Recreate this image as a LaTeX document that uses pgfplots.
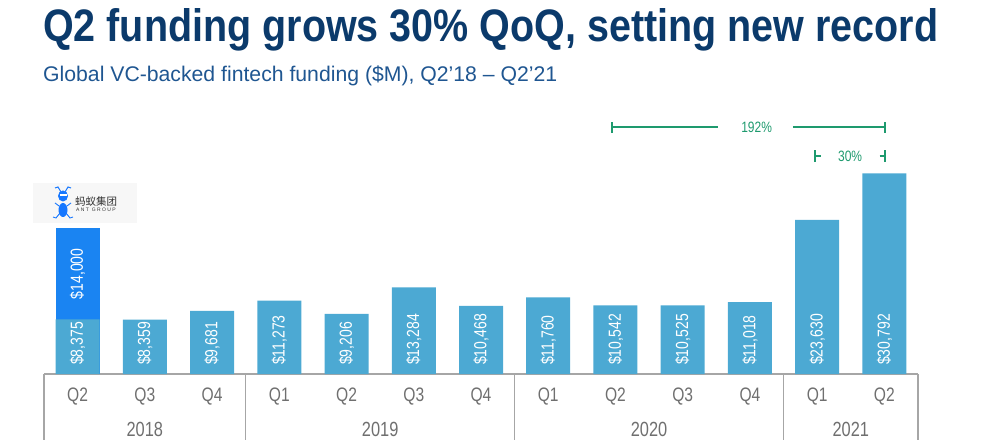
\documentclass[border=0pt]{standalone}
\usepackage{pgfplots}
\pgfplotsset{compat=1.18}
\usepackage{fontspec}
\setmainfont{Liberation Sans}
\newfontfamily\condfont{Liberation Sans}[FakeStretch=0.8]
\newfontfamily\cjk{Noto Sans CJK SC}
\definecolor{navy}{HTML}{0B3A6B}
\definecolor{subblue}{HTML}{1F5691}
\definecolor{lightbar}{HTML}{4CA9D3}
\definecolor{darkbar}{HTML}{1A84F2}
\definecolor{anngreen}{HTML}{1E9A6E}
\definecolor{linegray}{HTML}{A6A6A6}
\definecolor{tickgray}{HTML}{6F6F6F}
\definecolor{antblue}{HTML}{1677FF}
\begin{document}
\begin{tikzpicture}
\path[use as bounding box] (0pt,0pt) rectangle (987pt,439pt);
% title and subtitle
\node[anchor=base west, inner sep=0pt, text=navy] at (43pt,397pt)
  {\resizebox{895pt}{33pt}{\bfseries Q2 funding grows 30\% QoQ, setting new record}};
\node[anchor=base west, inner sep=0pt, text=subblue] at (43pt,357.3pt)
  {\resizebox{514pt}{!}{\fontsize{20}{24}\selectfont Global VC-backed fintech funding (\$M), Q2’18 – Q2’21}};
% logo
\fill[gray!6] (33pt,216pt) rectangle (137pt,256pt);
\begin{scope}[antblue]
  \draw[line width=1pt] (61pt,247pt) -- (58pt,252pt) -- (55pt,251pt);
  \draw[line width=1pt] (65pt,247pt) -- (68pt,252pt) -- (71pt,251pt);
  \fill (63pt,243pt) ellipse (5pt and 5.5pt);
  \fill[white] (59.5pt,242.5pt) rectangle (66.5pt,244.5pt);
  \fill (63pt,229pt) ellipse (4.5pt and 7pt);
  \draw[line width=0.9pt] (60pt,226pt) -- (56pt,221pt) -- (53pt,222pt);
  \draw[line width=0.9pt] (66pt,226pt) -- (70pt,221pt) -- (73pt,222pt);
  \draw[line width=0.9pt] (59pt,233pt) -- (55pt,236pt);
  \draw[line width=0.9pt] (67pt,233pt) -- (71pt,236pt);
\end{scope}
\node[anchor=base west, inner sep=0pt, text=black!80] at (75pt,233pt) {\cjk\fontsize{10.5}{12}\selectfont 蚂蚁集团};
\node[anchor=base west, inner sep=0pt, text=black!80] at (76pt,227.5pt) {\fontsize{5}{6}\selectfont A N T\ \ G R O U P};
\begin{axis}[
  at={(44pt,65pt)}, anchor=south west,
  scale only axis, width=874pt, height=264pt,
  xmin=-0.5, xmax=12.5, ymin=0, ymax=40500,
  axis x line*=bottom, axis y line=none,
  x axis line style={draw=linegray, line width=1.3pt},
  xtick={0,...,12},
  xticklabels={Q2,Q3,Q4,Q1,Q2,Q3,Q4,Q1,Q2,Q3,Q4,Q1,Q2},
  major tick length=0pt,
  xticklabel style={font=\condfont\fontsize{19.5}{20}\selectfont, text=tickgray, anchor=base, yshift=-27.7pt},
  clip=false,
]
% Q2'18 total = 8,375 + 14,000 (Ant Group round)
\addplot[ybar, bar width=44pt, bar shift=0pt, fill=darkbar, draw=none] coordinates {(0,22375)};
\addplot[ybar, bar width=44pt, bar shift=0pt, fill=lightbar, draw=none] coordinates {
  (0,8375) (1,8359) (2,9681) (3,11273) (4,9206) (5,13284) (6,10468)
  (7,11760) (8,10542) (9,10525) (10,11018) (11,23630) (12,30792)};
\addplot[draw=none, mark=none, nodes near coords, point meta=explicit symbolic,
  every node near coord/.append style={font=\condfont\fontsize{17.5}{18}\selectfont, text=white, rotate=90, anchor=west, inner xsep=9pt, inner ysep=0pt}]
  coordinates {
  (0,0) [\$8,375] (1,0) [\$8,359] (2,0) [\$9,681] (3,0) [\$11,273] (4,0) [\$9,206]
  (5,0) [\$13,284] (6,0) [\$10,468] (7,0) [\$11,760] (8,0) [\$10,542] (9,0) [\$10,525]
  (10,0) [\$11,018] (11,0) [\$23,630] (12,0) [\$30,792]};
\addplot[draw=none, mark=none, nodes near coords, point meta=explicit symbolic,
  every node near coord/.append style={font=\condfont\fontsize{17.5}{18}\selectfont, text=white, rotate=90, anchor=center, inner sep=0pt}]
  coordinates {(0,15375) [\$14,000]};
% group separators
\draw[linegray, line width=1.3pt] (axis cs:-0.5,0) -- ++(0pt,-66pt);
\draw[linegray, line width=1.3pt] (axis cs:2.5,0) -- ++(0pt,-66pt);
\draw[linegray, line width=1.3pt] (axis cs:6.5,0) -- ++(0pt,-66pt);
\draw[linegray, line width=1.3pt] (axis cs:10.5,0) -- ++(0pt,-66pt);
\draw[linegray, line width=1.3pt] (axis cs:12.5,0) -- ++(0pt,-66pt);
\node[font=\condfont\fontsize{20.5}{21}\selectfont, text=tickgray, anchor=base, yshift=-62.5pt] at (axis cs:1,0) {2018};
\node[font=\condfont\fontsize{20.5}{21}\selectfont, text=tickgray, anchor=base, yshift=-62.5pt] at (axis cs:4.5,0) {2019};
\node[font=\condfont\fontsize{20.5}{21}\selectfont, text=tickgray, anchor=base, yshift=-62.5pt] at (axis cs:8.5,0) {2020};
\node[font=\condfont\fontsize{20.5}{21}\selectfont, text=tickgray, anchor=base, yshift=-62.5pt] at (axis cs:11.5,0) {2021};
% growth brackets
\draw[anngreen, line width=1.6pt] (axis cs:7.95,37890) -- (axis cs:9.53,37890);
\draw[anngreen, line width=1.6pt] (axis cs:10.64,37890) -- (axis cs:12.01,37890);
\draw[anngreen, line width=1.6pt] (axis cs:7.95,37890) ++(0pt,-5.5pt) -- ++(0pt,11pt);
\draw[anngreen, line width=1.6pt] (axis cs:12.01,37890) ++(0pt,-5.5pt) -- ++(0pt,11pt);
\node[text=anngreen, font=\condfont\fontsize{15}{16}\selectfont] at (axis cs:10.1,37890) {192\%};
\draw[anngreen, line width=1.6pt] (axis cs:10.97,33441) -- (axis cs:11.05,33441);
\draw[anngreen, line width=1.6pt] (axis cs:11.93,33441) -- (axis cs:12.01,33441);
\draw[anngreen, line width=1.6pt] (axis cs:10.97,33441) ++(0pt,-6pt) -- ++(0pt,12pt);
\draw[anngreen, line width=1.6pt] (axis cs:12.01,33441) ++(0pt,-6pt) -- ++(0pt,12pt);
\node[text=anngreen, font=\condfont\fontsize{15}{16}\selectfont] at (axis cs:11.49,33441) {30\%};
\end{axis}
\end{tikzpicture}
\end{document}
